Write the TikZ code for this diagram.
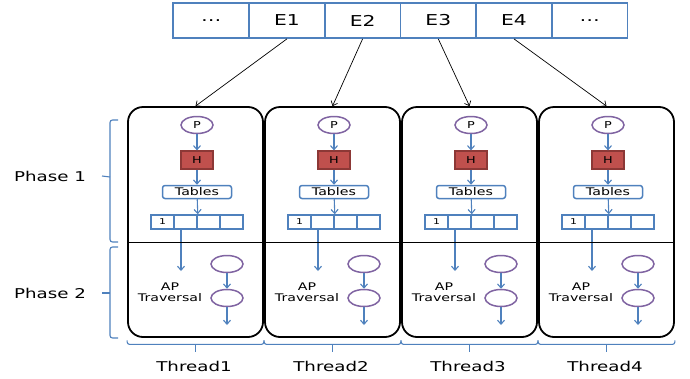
\documentclass[tikz,border=0pt]{standalone}
\usepackage{fontspec}
\setmainfont[FakeStretch=1.35]{DejaVu Sans}
\usetikzlibrary{arrows.meta,shapes.geometric}
\definecolor{ofblue}{HTML}{4F81BD}
\definecolor{ofpurple}{HTML}{8064A2}
\definecolor{ofred}{HTML}{C0504D}
\definecolor{ofdred}{HTML}{8C3836}

\begin{document}
\begin{tikzpicture}[x=1pt, y=-1pt, >={Straight Barb[length=4pt,width=7pt]},
    cell/.style={draw=ofblue, line width=1.8pt, minimum width=75.7pt, minimum height=35pt, inner sep=0pt, font=\fontsize{15}{18}\selectfont},
    thread/.style={draw, line width=1.8pt, rounded corners=15pt, minimum width=135pt, minimum height=230pt},
    pnode/.style={ellipse, draw=ofpurple, line width=1.5pt, fill=white, minimum width=32pt, minimum height=17pt, inner sep=0pt, font=\fontsize{9.5}{10}\selectfont},
    hnode/.style={draw=ofdred, fill=ofred, line width=1.2pt, minimum width=32pt, minimum height=18pt, inner sep=0pt, font=\fontsize{9.5}{10}\selectfont},
    tbl/.style={draw=ofblue, line width=1.5pt, rounded corners=2.5pt, minimum width=69pt, minimum height=13pt, inner sep=0pt, font=\fontsize{10.5}{11}\selectfont},
    slot/.style={draw=ofblue, line width=1.5pt, minimum width=23pt, minimum height=14pt, inner sep=0pt, font=\fontsize{8}{8}\selectfont},
    flow/.style={->, draw=ofblue, line width=1.1pt},
    brc/.style={draw=ofblue, line width=1.1pt, rounded corners=2.5pt},
    ap/.style={align=center, font=\fontsize{10.5}{11.5}\selectfont},
    lbl/.style={font=\fontsize{13.5}{15}\selectfont}]
  \useasboundingbox (0,0) rectangle (690,378);

  % event array on top
  \node[cell] (ev0) at (211.2,20.5) {\ldots};
  \node[cell] (ev1) at (286.9,20.5) {E1};
  \node[cell] (ev2) at (362.6,20.5) {E2};
  \node[cell] (ev3) at (438.3,20.5) {E3};
  \node[cell] (ev4) at (514.0,20.5) {E4};
  \node[cell] (ev5) at (589.7,20.5) {\ldots};

  % phase split
  \coordinate (mid) at (0,242);

  % one box per thread
  \foreach \i in {1,...,4} {
    \pgfmathsetmacro\cx{197+137*(\i-1)}
    \node[thread] (t\i) at (\cx-1.5,222) {};
    \node[pnode] (p\i) at (\cx,125) {P};
    \node[hnode] (h\i) at (\cx,160) {H};
    \node[tbl] (tb\i) at (\cx,192) {Tables};
    \node[slot] (s\i1) at (\cx-34.5,222) {1};
    \node[slot] (s\i2) at (\cx-11.5,222) {};
    \node[slot] (s\i3) at (\cx+11.5,222) {};
    \node[slot] (s\i4) at (\cx+34.5,222) {};
    \draw[flow] (p\i) -- (h\i);
    \draw[flow] (h\i) -- (tb\i);
    \draw[flow] (tb\i) -- (s\i2.north east);
    \coordinate (d\i) at (\cx-16,271);
    \draw[flow] (s\i2.south -| d\i) -- (d\i);
    \node[ap] (ap\i) at (\cx-27,292) {AP\\Traversal};
    \node[pnode] (a\i) at (\cx+30,264) {};
    \node[pnode] (b\i) at (\cx+30,298) {};
    \coordinate (o\i) at (\cx+30,325);
    \draw[flow] (a\i) -- (b\i);
    \draw[flow] (b\i) -- (o\i);
    % brace under the box
    \coordinate (k\i) at ([yshift=-6.5pt]t\i.south);
    \draw[brc] ([yshift=-2.5pt]t\i.south west) |- (k\i) -| ([yshift=-2.5pt]t\i.south east);
    \draw[brc] (k\i) -- ++(0,8);
    \node[lbl] (n\i) at (\cx-3,366) {Thread\i};
  }
  \draw[line width=0.8pt] (t1.west |- mid) -- (t4.east |- mid);

  % events to threads
  \draw[->, line width=0.7pt] (ev1.south) -- (t1.north);
  \draw[->, line width=0.7pt] (ev2.south) -- (t2.north);
  \draw[->, line width=0.7pt] (ev3.south) -- (t3.north);
  \draw[->, line width=0.7pt] (ev4.south) -- (t4.north);

  % phases
  \node[lbl] (ph1) at (50,176) {Phase 1};
  \node[lbl] (ph2) at (50,293) {Phase 2};
  \draw[brc] (118,120) -| (110,242) -- (118,242);
  \draw[brc] (110,177) -- (ph1.east -| 102,0);
  \draw[brc] (118,247) -| (110,338) -- (118,338);
  \draw[brc] (110,293) -- (ph2.east -| 102,0);
\end{tikzpicture}
\end{document}
